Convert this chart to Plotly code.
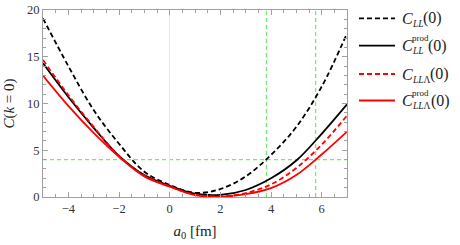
import plotly.graph_objects as go

# scattering length a0 [fm]
a0 = [-5, -4, -3, -2, -1, 0, 1, 2, 3, 4, 5, 6, 7]
C_LL = [19.1, 14.0, 9.3, 5.7, 2.7, 1.3, 0.45, 0.85, 2.2, 4.5, 7.5, 11.8, 17.5]
C_LL_prod = [14.3, 10.7, 7.4, 4.4, 2.35, 1.2, 0.35, 0.22, 0.75, 2.0, 3.9, 6.75, 9.9]
C_LLL = [14.65, 10.9, 7.5, 4.4, 2.3, 1.15, 0.25, 0.07, 0.42, 1.35, 3.1, 5.6, 8.7]
C_LLL_prod = [13.0, 9.75, 6.85, 4.3, 2.2, 1.1, 0.2, 0.02, 0.3, 0.95, 2.35, 4.55, 7.0]

threshold = 4
crossings = [3.82, 5.76]

serif = "Liberation Serif"
W, H = 460, 245
ML, MR, MT, MB = 43, 113, 10, 48
PW, PH = W - ML - MR, H - MT - MB


def px(xp):
    return (xp - ML) / PW


def py(yp):
    return (H - MB - yp) / PH


DASH = "5px,3px"
series = [
    (C_LL, "black", DASH, None, "<i>LL</i>", 421),
    (C_LL_prod, "black", "solid", "prod", "<i>LL</i>", 426),
    (C_LLL, "red", DASH, None, "<i>LL</i>Λ", 428),
    (C_LLL_prod, "red", "solid", "prod", "<i>LL</i>Λ", 428.5),
]
legend_rows = [18.3, 45.7, 74.0, 100.5]

fig = go.Figure()

GREEN = "#74ea74"
fig.add_hline(y=threshold, line=dict(color=GREEN, width=1.3, dash="4px,3px"), layer="below")
for xc in crossings:
    fig.add_vline(x=xc, line=dict(color=GREEN, width=1.3, dash="4px,3px"), layer="below")

for (y, color, dash, sup, sub, paren_x), ly in zip(series, legend_rows):
    fig.add_trace(go.Scatter(
        x=a0, y=y, mode="lines", showlegend=False,
        line=dict(color=color, width=1.8, dash=dash, shape="spline", smoothing=1.0),
    ))
    # legend sample line
    fig.add_shape(type="line", xref="paper", yref="paper",
                  x0=px(359), x1=px(395), y0=py(ly), y1=py(ly),
                  line=dict(color=color, width=1.8, dash=dash))
    # legend text pieces
    fig.add_annotation(text="<i>C</i>", xref="paper", yref="paper",
                       x=px(400), y=py(ly), xanchor="left", yanchor="middle",
                       showarrow=False, font=dict(family=serif, size=16, color="#222"))
    fig.add_annotation(text=sub, xref="paper", yref="paper",
                       x=px(410), y=py(ly + 5.5), xanchor="left", yanchor="middle",
                       showarrow=False, font=dict(family=serif, size=9.5, color="#222"))
    if sup:
        fig.add_annotation(text=sup, xref="paper", yref="paper",
                           x=px(409.5), y=py(ly - 7.5), xanchor="left", yanchor="middle",
                           showarrow=False, font=dict(family=serif, size=9, color="#222"))
    fig.add_annotation(text="(0)", xref="paper", yref="paper",
                       x=px(paren_x), y=py(ly), xanchor="left", yanchor="middle",
                       showarrow=False, font=dict(family=serif, size=16, color="#222"))

axis_common = dict(
    showgrid=False, automargin=False,
    showline=True, linecolor="#a0a0a0", linewidth=1,
    mirror="allticks", ticks="inside", ticklen=5, tickcolor="#a0a0a0",
    tickfont=dict(family=serif, size=12.5, color="#333333"),
)

fig.update_xaxes(
    range=[-5, 7], tick0=-4, dtick=2,
    minor=dict(dtick=0.5, ticks="inside", ticklen=3, tickcolor="#a0a0a0"),
    zeroline=True, zerolinecolor="#e6e6e6", zerolinewidth=1,
    title=dict(text="<i>a</i><sub>0</sub> [fm]", font=dict(family=serif, size=15, color="#222"), standoff=10),
    **axis_common,
)
fig.update_yaxes(
    range=[0, 20], tick0=0, dtick=5,
    minor=dict(dtick=1, ticks="inside", ticklen=3, tickcolor="#a0a0a0"),
    zeroline=False,
    title=dict(text="<i>C</i>(<i>k</i> = 0)", font=dict(family=serif, size=15, color="#222"), standoff=8),
    **axis_common,
)

fig.update_layout(
    width=W, height=H,
    margin=dict(l=ML, r=MR, t=MT, b=MB),
    paper_bgcolor="white", plot_bgcolor="white",
    showlegend=False,
)

fig.write_html("out.html", config={"displayModeBar": False},
               post_script="document.body.style.margin='0';")
